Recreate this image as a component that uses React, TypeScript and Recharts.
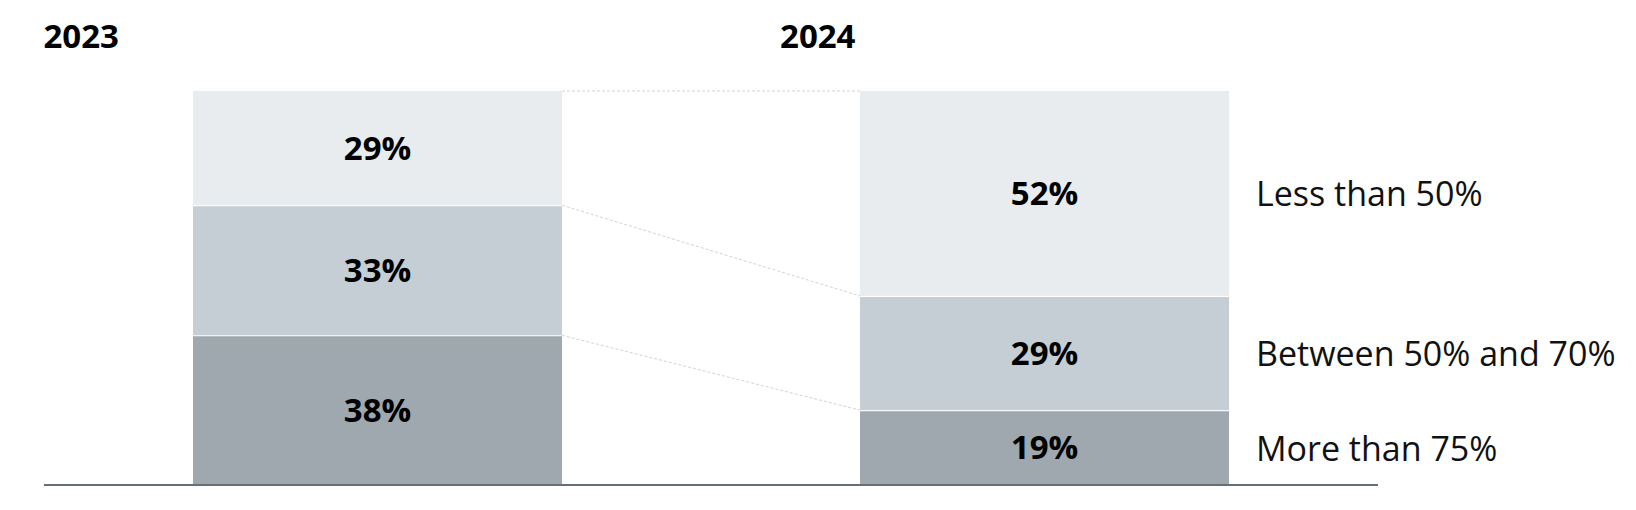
import { BarChart, Bar, XAxis, YAxis, LabelList } from "recharts"

const years = ["2023", "2024"]
const lessThan50 = [29, 52]
const between50and70 = [33, 29]
const moreThan75 = [38, 19]
const seriesNames = ["More than 75%", "Between 50% and 70%", "Less than 50%"]

const data = years.map((year, i) => ({
  year,
  more: moreThan75[i],
  between: between50and70[i],
  less: lessThan50[i],
}))

// top-right corner of the first bar's segment, kept so the second bar can draw the connector
const joints: Record<string, { x: number; y: number }> = {}

function makeShape(key: string, fill: string, separator: boolean) {
  return (props: any) => {
    const { x, y, width, height, payload } = props
    let link = null
    if (payload?.year === years[0]) {
      joints[key] = { x: x + width, y }
    } else if (joints[key]) {
      link = (
        <line
          x1={joints[key].x}
          y1={joints[key].y}
          x2={x}
          y2={y}
          stroke="#cdd5db"
          strokeWidth={1}
          strokeDasharray="3 2"
        />
      )
    }
    return (
      <g>
        <rect x={x} y={y} width={width} height={height} fill={fill} />
        {separator && (
          <line x1={x} x2={x + width} y1={y} y2={y} stroke="#fff" strokeWidth={2} />
        )}
        {link}
      </g>
    )
  }
}

function sideLabel(name: string) {
  return (props: any) => {
    const box = props.viewBox ?? props
    const { x, y, width, height } = box
    if (props.index !== years.length - 1) return null
    return (
      <text
        x={x + width + 27}
        y={y + height / 2}
        dominantBaseline="central"
        fontSize={34}
        fill="#111"
      >
        {name}
      </text>
    )
  }
}

function HeaderTick(props: any) {
  const { x, y, payload, index } = props
  const first = index === 0
  return (
    <text
      x={first ? x - 334 : x - 189}
      y={y - 56}
      textAnchor={first ? "start" : "end"}
      dominantBaseline="central"
      fontSize={33}
      fontWeight={700}
      fill="#000"
    >
      {payload.value}
    </text>
  )
}

const pct = (v: any) => `${v}%`

export default function App() {
  return (
    <div style={{ position: "absolute", left: 0, top: 0 }}>
      <BarChart
        width={1636}
        height={510}
        data={data}
        margin={{ top: 31, right: 258, bottom: 23, left: 44 }}
        style={{ fontFamily: '"Open Sans", sans-serif' }}
      >
        <XAxis
          xAxisId="top"
          orientation="top"
          dataKey="year"
          height={60}
          axisLine={false}
          tickLine={false}
          tickSize={0}
          tickMargin={0}
          interval={0}
          tick={HeaderTick}
        />
        <XAxis
          xAxisId="base"
          dataKey="year"
          height={2}
          tick={false}
          tickLine={false}
          axisLine={{ stroke: "#656f78", strokeWidth: 2 }}
        />
        <YAxis hide domain={[0, 100]} />
        <Bar
          xAxisId="base"
          dataKey="more"
          stackId="s"
          barSize={369}
          isAnimationActive={false}
          shape={makeShape("more", "#9ea8ae", true)}
        >
          <LabelList dataKey="more" position="center" fill="#000" fontSize={33} fontWeight={700} formatter={pct} />
          <LabelList dataKey="more" content={sideLabel(seriesNames[0])} />
        </Bar>
        <Bar
          xAxisId="base"
          dataKey="between"
          stackId="s"
          barSize={369}
          isAnimationActive={false}
          shape={makeShape("between", "#c4ced4", true)}
        >
          <LabelList dataKey="between" position="center" fill="#000" fontSize={33} fontWeight={700} formatter={pct} />
          <LabelList dataKey="between" content={sideLabel(seriesNames[1])} />
        </Bar>
        <Bar
          xAxisId="base"
          dataKey="less"
          stackId="s"
          barSize={369}
          isAnimationActive={false}
          shape={makeShape("less", "#e8ecef", false)}
        >
          <LabelList dataKey="less" position="center" fill="#000" fontSize={33} fontWeight={700} formatter={pct} />
          <LabelList dataKey="less" content={sideLabel(seriesNames[2])} />
        </Bar>
      </BarChart>
    </div>
  )
}
